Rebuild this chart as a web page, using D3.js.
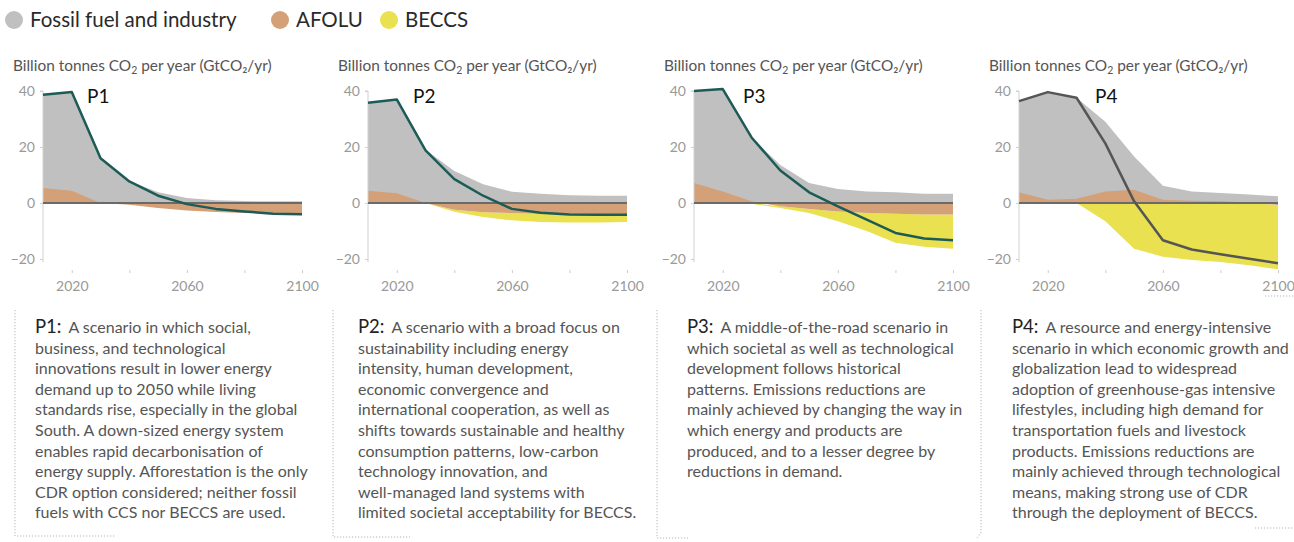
<!DOCTYPE html>
<html>
<head>
<meta charset="utf-8">
<script src="https://cdn.jsdelivr.net/npm/d3@7"></script>
<style>
  html, body { margin: 0; padding: 0; background: #fff; }
  svg { display: block; }
  text { font-family: Lato, "Open Sans", sans-serif; }
</style>
</head>
<body>
<svg id="chart" width="1294" height="542"></svg>
<script>
// ---------- DATA ----------
const years = [2010, 2020, 2030, 2040, 2050, 2060, 2070, 2080, 2090, 2100];
const scenarioNames = ["P1", "P2", "P3", "P4"];
const legendLabels = ["Fossil fuel and industry", "AFOLU", "BECCS"];
const xTickValues = [2020, 2040, 2060, 2080, 2100];
const xTickLabels = [2020, 2060, 2100];
const yTickValues = [-20, 0, 20, 40];

const p1Fossil = [38.7, 39.6, 16.0, 7.9, 3.8, 1.8, 1.0, 0.7, 0.6, 0.6];
const p1Afolu  = [5.4, 4.4, 0.0, -0.6, -1.8, -2.7, -3.2, -3.6, -3.8, -3.8];
const p1Beccs  = [0, 0, 0, 0, 0, 0, 0, 0, 0, 0];
const p1Net    = [38.7, 39.6, 16.0, 7.7, 2.6, -0.4, -2.1, -3.0, -3.8, -4.0];

const p2Fossil = [35.8, 37.0, 19.0, 11.4, 6.7, 4.0, 3.3, 2.8, 2.6, 2.6];
const p2Afolu  = [4.4, 3.5, 0.0, -2.4, -3.3, -3.6, -3.9, -3.9, -3.9, -3.9];
const p2Beccs  = [0, 0, 0, -0.7, -1.7, -2.6, -2.9, -3.1, -3.1, -2.9];
const p2Net    = [35.8, 37.0, 18.8, 8.5, 2.6, -2.1, -3.5, -4.1, -4.2, -4.2];

const p3Fossil = [40.0, 40.7, 23.4, 13.6, 7.1, 5.0, 4.1, 3.8, 3.3, 3.3];
const p3Afolu  = [7.1, 4.1, 0.6, -1.2, -2.1, -3.0, -3.6, -3.8, -4.1, -4.1];
const p3Beccs  = [0, 0, -0.3, -0.6, -1.5, -3.5, -6.4, -10.4, -11.5, -12.2];
const p3Net    = [40.0, 40.7, 23.4, 11.6, 3.8, -1.2, -5.9, -10.7, -12.7, -13.3];

const p4Fossil = [36.4, 39.6, 37.6, 29.0, 16.6, 6.2, 4.1, 3.6, 3.0, 2.4];
const p4Afolu  = [3.8, 1.2, 1.5, 4.1, 4.7, 1.2, 0.8, 0.6, 0.2, -0.7];
const p4Beccs  = [0, 0, 0, -6.5, -16.3, -19.2, -20.4, -21.1, -22.2, -23.0];
const p4Net    = [36.4, 39.6, 37.6, 21.3, 0.6, -13.3, -16.6, -18.3, -19.9, -21.5];

const p1Text = ["A scenario in which social,", "business, and technological", "innovations result in lower energy", "demand up to 2050 while living", "standards rise, especially in the global", "South. A down-sized energy system", "enables rapid decarbonisation of", "energy supply. Afforestation is the only", "CDR option considered; neither fossil", "fuels with CCS nor BECCS are used."];
const p2Text = ["A scenario with a broad focus on", "sustainability including energy", "intensity, human development,", "economic convergence and", "international cooperation, as well as", "shifts towards sustainable and healthy", "consumption patterns, low-carbon", "technology innovation, and", "well-managed land systems with", "limited societal acceptability for BECCS."];
const p3Text = ["A middle-of-the-road scenario in", "which societal as well as technological", "development follows historical", "patterns. Emissions reductions are", "mainly achieved by changing the way in", "which energy and products are", "produced, and to a lesser degree by", "reductions in demand."];
const p4Text = ["A resource and energy-intensive", "scenario in which economic growth and", "globalization lead to widespread", "adoption of greenhouse-gas intensive", "lifestyles, including high demand for", "transportation fuels and livestock", "products. Emissions reductions are", "mainly achieved through technological", "means, making strong use of CDR", "through the deployment of BECCS."];

// ---------- BUILD ----------
const scenarios = [
  {name: "P1", fossil: p1Fossil, afolu: p1Afolu, beccs: p1Beccs, net: p1Net, text: p1Text, lineColor: "#1d5b56"},
  {name: "P2", fossil: p2Fossil, afolu: p2Afolu, beccs: p2Beccs, net: p2Net, text: p2Text, lineColor: "#1d5b56"},
  {name: "P3", fossil: p3Fossil, afolu: p3Afolu, beccs: p3Beccs, net: p3Net, text: p3Text, lineColor: "#1d5b56"},
  {name: "P4", fossil: p4Fossil, afolu: p4Afolu, beccs: p4Beccs, net: p4Net, text: p4Text, lineColor: "#555555"}
];

const colors = {fossil: "#c0c0c0", afolu: "#d3a078", beccs: "#e9e14f"};
const svg = d3.select("#chart");

// Legend
const legendX = [14, 280, 389];
const legendColors = [colors.fossil, colors.afolu, colors.beccs];
legendLabels.forEach((lab, i) => {
  svg.append("circle").attr("cx", legendX[i]).attr("cy", 20).attr("r", 9).attr("fill", legendColors[i]);
  svg.append("text").attr("x", legendX[i] + 16).attr("y", 27).attr("font-size", 20.5)
    .attr("fill", "#2a2a2a").text(lab);
});

const panelX = [43, 368, 694, 1019];
const panelW = 259;
const labelOffsets = [44, 45, 49, 76];
const textX = [35, 358, 687, 1012];

const y = d3.scaleLinear().domain([-20, 40]).range([259, 91]);

scenarios.forEach((s, i) => {
  const x0 = panelX[i];
  const x = d3.scaleLinear().domain([2010, 2100]).range([x0, x0 + panelW]);
  const g = svg.append("g");

  // title
  const t = g.append("text").attr("x", x0 - 30).attr("y", 71).attr("font-size", 15.4).attr("fill", "#555");
  t.append("tspan").text("Billion tonnes CO");
  t.append("tspan").attr("font-size", 10.5).attr("dy", 3).text("2");
  t.append("tspan").attr("dy", -3).text(" per year (GtCO\u2082/yr)");

  const rows = years.map((yr, k) => ({
    yr, fossil: s.fossil[k], afolu: s.afolu[k],
    base: Math.min(s.afolu[k], 0), beccs: s.beccs[k], net: s.net[k]
  }));

  g.append("path").datum(rows).attr("fill", colors.fossil)
    .attr("d", d3.area().x(d => x(d.yr)).y0(y(0)).y1(d => y(d.fossil)));
  g.append("path").datum(rows).attr("fill", colors.beccs)
    .attr("d", d3.area().x(d => x(d.yr)).y0(d => y(d.base)).y1(d => y(d.base + d.beccs)));
  g.append("path").datum(rows).attr("fill", colors.afolu)
    .attr("d", d3.area().x(d => x(d.yr)).y0(y(0)).y1(d => y(d.afolu)));

  // y axis
  const yAxis = d3.axisLeft(y).tickValues(yTickValues).tickSize(3).tickPadding(5);
  const ya = g.append("g").attr("transform", `translate(${x0},0)`).call(yAxis);
  ya.select(".domain").attr("stroke", "#d0d0d0").attr("d", `M-3,${y(40)}H0V${y(-20) + 3}`);
  ya.selectAll(".tick line").attr("stroke", "#d0d0d0");
  ya.selectAll(".tick text").attr("fill", "#999").attr("font-size", 14)
    .attr("font-family", "Lato, sans-serif");

  // x axis
  const xAxis = d3.axisBottom(x).tickValues(xTickValues).tickSize(3).tickPadding(8)
    .tickFormat(d => xTickLabels.includes(d) ? d : "");
  const xa = g.append("g").attr("transform", `translate(0,270)`).call(xAxis);
  xa.select(".domain").remove();
  xa.selectAll(".tick line").attr("stroke", "#ccc");
  xa.selectAll(".tick text").attr("fill", "#999").attr("font-size", 14)
    .attr("font-family", "Lato, sans-serif");

  // zero line
  g.append("line").attr("x1", x0).attr("x2", x(2100)).attr("y1", y(0)).attr("y2", y(0))
    .attr("stroke", "#6a6a6a").attr("stroke-width", 2);

  // net line
  g.append("path").datum(rows).attr("fill", "none").attr("stroke", s.lineColor)
    .attr("stroke-width", 2.5).attr("stroke-linejoin", "round")
    .attr("d", d3.line().x(d => x(d.yr)).y(d => y(d.net)));

  // panel label
  g.append("text").attr("x", x0 + labelOffsets[i]).attr("y", 103).attr("font-size", 19)
    .attr("fill", "#111").attr("font-family", "'Open Sans', sans-serif").text(s.name);

  // description
  const tx = textX[i];
  s.text.forEach((line, k) => {
    const tt = g.append("text").attr("x", tx).attr("y", 333 + k * 20.6).attr("font-size", 16).attr("fill", "#555");
    if (k === 0) {
      tt.append("tspan").attr("font-size", 18.5).attr("fill", "#222").text(s.name + ":");
      tt.append("tspan").attr("dx", 7).text(line);
    } else {
      tt.text(line);
    }
  });
});

// dotted box borders
const borderSegs = [
  [[15, 310], [15, 536], [115, 536]],
  [[333, 310], [333, 537], [410, 537]],
  [[657, 310], [657, 538], [688, 538]],
  [[981, 310], [981, 533], [976, 539]],
  [[1255, 528], [1294, 528]],
  [[1265, 296], [1294, 296]]
];
borderSegs.forEach(seg => {
  svg.append("path").attr("d", d3.line()(seg)).attr("fill", "none")
    .attr("stroke", "#b5b5b5").attr("stroke-width", 1).attr("stroke-dasharray", "1.2,1.8");
});
</script>
</body>
</html>
